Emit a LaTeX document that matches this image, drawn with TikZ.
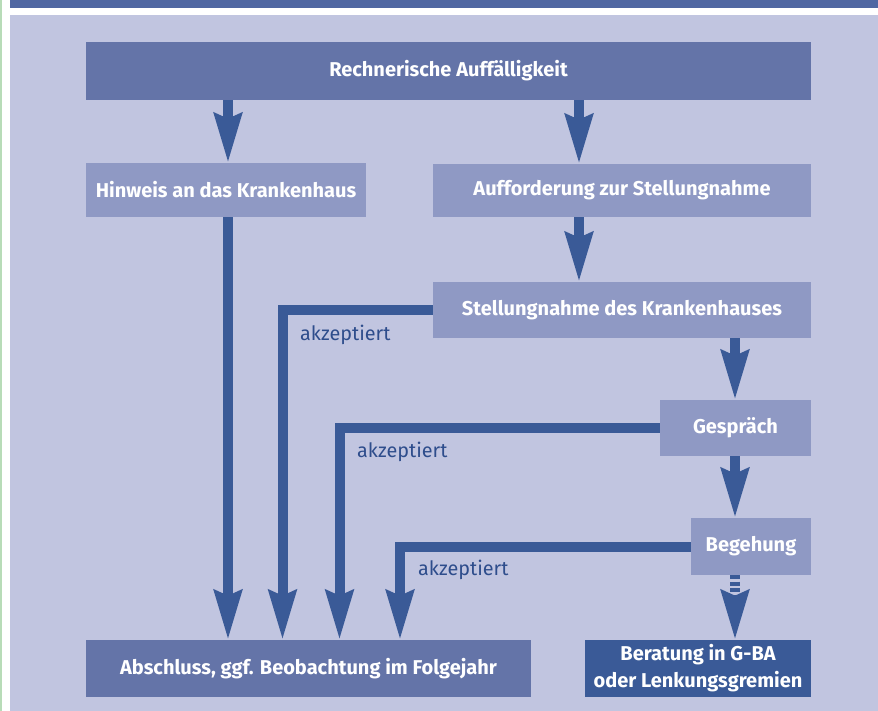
\documentclass[tikz,border=0pt]{standalone}
\usepackage{fontspec}
\setmainfont{Fira Sans}
\usetikzlibrary{arrows.meta}
\definecolor{bg}{HTML}{C1C5E0}
\definecolor{dbox}{HTML}{6474A8}
\definecolor{lbox}{HTML}{8F99C4}
\definecolor{arrc}{HTML}{3A5A97}
\definecolor{band}{HTML}{5067A2}
\definecolor{grn}{HTML}{B8DCB8}
\definecolor{lbl}{HTML}{2E4D8C}
\begin{document}
\begin{tikzpicture}[x=1pt,y=-1pt,
  box/.style={inner sep=0pt, text=white, font=\bfseries\fontsize{20}{27}\selectfont, align=center},
  darkbox/.style={box, fill=dbox},
  lightbox/.style={box, fill=lbox},
  navybox/.style={box, fill=arrc},
  flow/.style={draw=arrc, line width=10pt, line join=miter, -{Stealth[length=49pt,width=27pt,inset=5pt]}},
  lab/.style={anchor=west, inner sep=0pt, text=lbl, font=\fontsize{19.8}{22}\selectfont}
]
\useasboundingbox (0,0) rectangle (878,711);
\fill[white] (0,0) rectangle (878,711);
\fill[grn] (0,0) rectangle (2,711);
\fill[band] (10,0) rectangle (878,8);
\fill[bg] (10,15) rectangle (878,711);

% columns for connectors
\coordinate (c1) at (228,0);
\coordinate (c2) at (282.5,0);
\coordinate (c3) at (339.5,0);
\coordinate (c4) at (400,0);
\coordinate (c5) at (579,0);
\coordinate (c6) at (735,0);

\node[darkbox, minimum width=725pt, minimum height=58pt] (R) at (448.5,71) {Rechnerische Auffälligkeit};
\node[lightbox, minimum width=280pt, minimum height=54pt] (H) at (226,190) {Hinweis an das Krankenhaus};
\node[lightbox, minimum width=378pt, minimum height=53pt] (A) at (622,190.5) {Aufforderung zur Stellungnahme};
\node[lightbox, minimum width=378pt, minimum height=56pt] (S) at (622,310) {Stellungnahme des Krankenhauses};
\node[lightbox, minimum width=151pt, minimum height=56pt] (G) at (735.5,428) {Gespräch};
\node[lightbox, minimum width=120pt, minimum height=57pt] (B) at (751,546.5) {Begehung};
\node[darkbox, minimum width=445pt, minimum height=57pt] (Ab) at (308.5,668.5) {Abschluss, ggf. Beobachtung im Folgejahr};
\node[navybox, minimum width=226pt, minimum height=57pt] (Be) at (698,668.5) {Beratung in G-BA\\oder Lenkungsgremien};

\draw[flow] (R.south -| c1) -- (H.north -| c1);
\draw[flow] (R.south -| c5) -- (A.north -| c5);
\draw[flow] (A.south -| c5) -- (S.north -| c5);
\draw[flow] (S.south -| c6) -- (G.north -| c6);
\draw[flow] (G.south -| c6) -- (B.north -| c6);
\draw[flow, dash pattern=on 4pt off 2.5pt] (B.south -| c6) -- (Be.north -| c6);
\draw[flow] (H.south -| c1) -- (Ab.north -| c1);
\draw[flow] (S.west) -| (Ab.north -| c2);
\draw[flow] (G.west) -| (Ab.north -| c3);
\draw[flow] (B.west) -| (Ab.north -| c4);

\node[lab] (l1) at (300,335) {akzeptiert};
\node[lab] (l2) at (357,452) {akzeptiert};
\node[lab] (l3) at (418,570) {akzeptiert};
\end{tikzpicture}
\end{document}
